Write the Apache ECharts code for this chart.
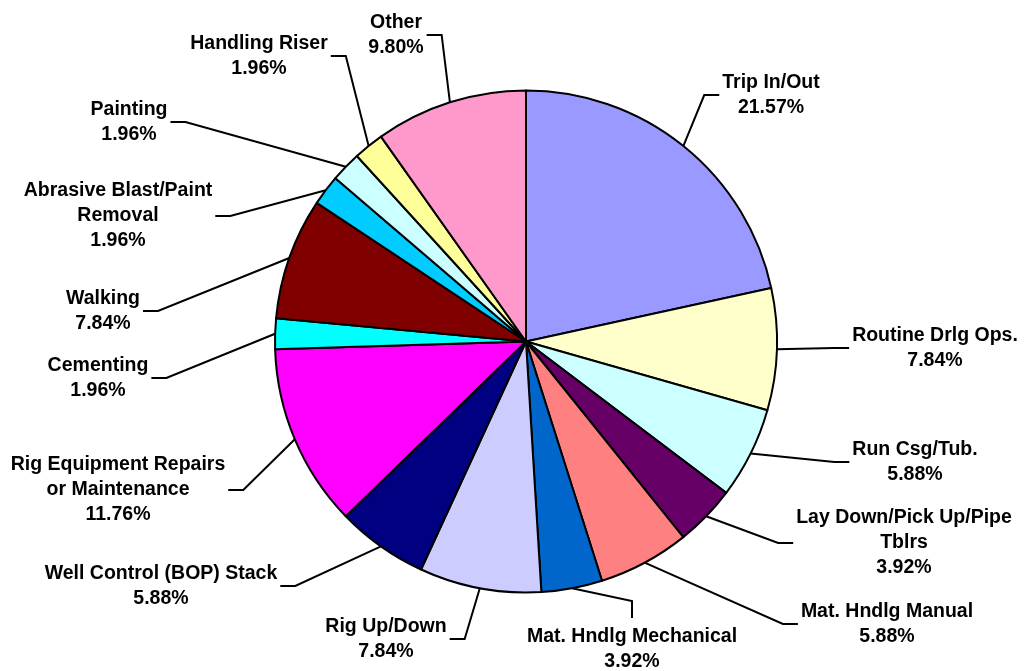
<!DOCTYPE html>
<html><head><meta charset="utf-8">
<script src="https://cdn.jsdelivr.net/npm/echarts@6/dist/echarts.min.js"></script>
<style>html,body{margin:0;padding:0;background:#fff}#c{width:1025px;height:671px}</style>
</head><body><div id="c"></div>
<script>
const categories = ['Trip In/Out','Routine Drlg Ops.','Run Csg/Tub.','Lay Down/Pick Up/Pipe\nTblrs','Mat. Hndlg Manual','Mat. Hndlg Mechanical','Rig Up/Down','Well Control (BOP) Stack','Rig Equipment Repairs\nor Maintenance','Cementing','Walking','Abrasive Blast/Paint\nRemoval','Painting','Handling Riser','Other'];
const percents = [21.57,7.84,5.88,3.92,5.88,3.92,7.84,5.88,11.76,1.96,7.84,1.96,1.96,1.96,9.80];
const colors = ['#9999FF','#FFFFCC','#CCFFFF','#660066','#FF8080','#0066CC','#CCCCFF','#000080','#FF00FF','#00FFFF','#800000','#00CCFF','#CCFFFF','#FFFF99','#FF99CC'];
// label block centre and side of the leader line
const labelPos = [
  [771, 95, 'r'], [935, 348, 'r'], [915, 462, 'r'], [904, 543, 'r'], [887, 624, 'r'],
  [632, 649, 'b'], [386, 639, 'l'], [161, 586, 'l'], [118, 490, 'l'], [98, 378, 'l'],
  [103, 311, 'l'], [118, 216, 'l'], [129, 122, 'l'], [259, 56, 'l'], [396, 35, 'l']
];
const chart = echarts.init(document.getElementById('c'));
chart.setOption({
  animation: false,
  backgroundColor: '#fff',
  series: [{
    type: 'pie',
    center: [526, 341.5],
    radius: 251,
    startAngle: 90,
    clockwise: true,
    avoidLabelOverlap: false,
    data: categories.map((n, i) => ({ name: n, value: percents[i], itemStyle: { color: colors[i] } })),
    itemStyle: { borderColor: '#000', borderWidth: 2 },
    label: {
      show: true,
      position: 'outside',
      formatter: p => p.name + '\n' + p.value.toFixed(2) + '%',
      fontFamily: 'Liberation Sans, Arial, sans-serif',
      fontWeight: 'bold',
      fontSize: 19.5,
      lineHeight: 25,
      color: '#000',
      align: 'center'
    },
    labelLine: { show: true, length: 10, length2: 10, lineStyle: { color: '#000', width: 2 } },
    emphasis: { disabled: true },
    labelLayout: function (p) {
      const lp = labelPos[p.dataIndex];
      const w = p.labelRect.width, h = p.labelRect.height;
      const cx = lp[0], cy = lp[1], side = lp[2];
      const start = p.labelLinePoints ? p.labelLinePoints[0] : [cx, cy];
      let end, elbow;
      if (side === 'r') { end = [cx - w / 2 - 3, cy]; elbow = [end[0] - 15, cy]; }
      else if (side === 'l') { end = [cx + w / 2 + 3, cy]; elbow = [end[0] + 15, cy]; }
      else { end = [cx, cy - h / 2 - 6]; elbow = [cx, end[1] - 17]; }
      return { x: cx, y: cy, align: 'center', verticalAlign: 'middle', labelLinePoints: [start, elbow, end] };
    }
  }]
});
</script>
</body></html>
